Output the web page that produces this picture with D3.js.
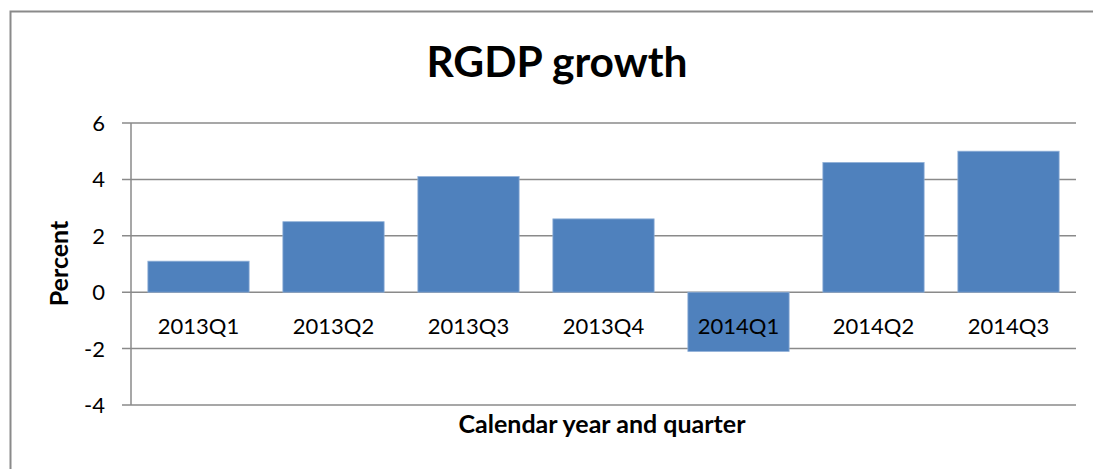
<!DOCTYPE html>
<html>
<head>
<meta charset="utf-8">
<script src="https://cdn.jsdelivr.net/npm/d3@7"></script>
<style>
  body { margin: 0; background: #fff; }
  text { font-family: Lato, "Open Sans", sans-serif; fill: #000; }
</style>
</head>
<body>
<div id="chart"></div>
<script>
const quarters = ["2013Q1", "2013Q2", "2013Q3", "2013Q4", "2014Q1", "2014Q2", "2014Q3"];
const growth = [1.1, 2.5, 4.1, 2.6, -2.1, 4.6, 5.0];
const yTicks = [-4, -2, 0, 2, 4, 6];

const width = 1093, height = 469;
const plot = {left: 131, right: 1076, top: 123, bottom: 405};

const svg = d3.select("#chart").append("svg")
    .attr("width", width)
    .attr("height", height);

// outer frame
svg.append("rect")
    .attr("x", 10.5).attr("y", 11.5)
    .attr("width", 1200).attr("height", 600)
    .attr("fill", "none")
    .attr("stroke", "#8a8a8a")
    .attr("stroke-width", 2);

const x = d3.scaleBand()
    .domain(quarters)
    .range([plot.left, plot.right])
    .paddingInner(0.25)
    .paddingOuter(0.125);

const y = d3.scaleLinear()
    .domain([-4, 6])
    .range([plot.bottom, plot.top]);

// gridlines + ticks
const grid = svg.append("g")
    .attr("stroke", "#8a8a8a")
    .attr("stroke-width", 1.5);
grid.selectAll("line")
  .data(yTicks)
  .join("line")
    .attr("x1", plot.left - 9)
    .attr("x2", plot.right)
    .attr("y1", d => y(d))
    .attr("y2", d => y(d));

// y axis line
svg.append("line")
    .attr("x1", plot.left).attr("x2", plot.left)
    .attr("y1", plot.top).attr("y2", plot.bottom)
    .attr("stroke", "#8a8a8a")
    .attr("stroke-width", 1.5);

svg.append("g")
  .selectAll("text")
  .data(yTicks)
  .join("text")
    .attr("x", plot.left - 26)
    .attr("y", d => y(d))
    .attr("dy", "0.36em")
    .attr("text-anchor", "end")
    .attr("font-size", 22)
    .text(d => d);

// bars
svg.append("g")
  .selectAll("rect")
  .data(growth)
  .join("rect")
    .attr("x", (d, i) => x(quarters[i]))
    .attr("width", x.bandwidth())
    .attr("y", d => y(Math.max(0, d)))
    .attr("height", d => Math.abs(y(d) - y(0)))
    .attr("fill", "#4f81bd")
    .attr("stroke", "#8fb0d8")
    .attr("stroke-width", 0.8);

// category labels (drawn on top of bars)
svg.append("g")
  .selectAll("text")
  .data(quarters)
  .join("text")
    .attr("x", d => x(d) + x.bandwidth() / 2)
    .attr("y", 334)
    .attr("text-anchor", "middle")
    .attr("font-size", 22)
    .text(d => d);

svg.append("text")
    .attr("x", 557)
    .attr("y", 77)
    .attr("text-anchor", "middle")
    .attr("font-size", 42.5)
    .attr("font-weight", "bold")
    .text("RGDP growth");

svg.append("text")
    .attr("x", 602)
    .attr("y", 433)
    .attr("text-anchor", "middle")
    .attr("font-size", 25)
    .attr("font-weight", "bold")
    .text("Calendar year and quarter");

svg.append("text")
    .attr("transform", "translate(68,263.5) rotate(-90)")
    .attr("text-anchor", "middle")
    .attr("font-size", 25)
    .attr("font-weight", "bold")
    .text("Percent");
</script>
</body>
</html>
